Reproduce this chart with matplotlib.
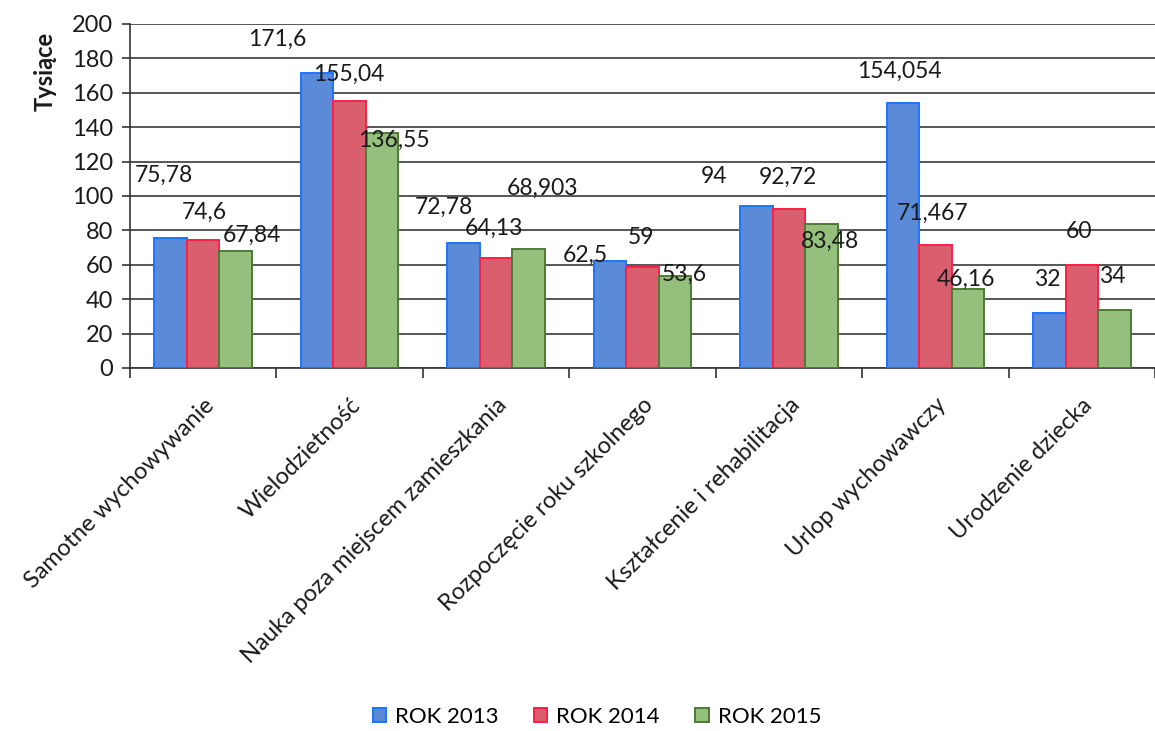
import matplotlib
matplotlib.use("Agg")
import matplotlib.pyplot as plt
import numpy as np

categories = ["Samotne wychowywanie", "Wielodzietność", "Nauka poza miejscem zamieszkania",
              "Rozpoczęcie roku szkolnego", "Kształcenie i rehabilitacja",
              "Urlop wychowawczy", "Urodzenie dziecka"]
series_names = ["ROK 2013", "ROK 2014", "ROK 2015"]
rok_2013 = [75.78, 171.6, 72.78, 62.5, 94, 154.054, 32]
rok_2014 = [74.6, 155.04, 64.13, 59, 92.72, 71.467, 60]
rok_2015 = [67.84, 136.55, 68.903, 53.6, 83.48, 46.16, 34]
y_ticks = [0, 20, 40, 60, 80, 100, 120, 140, 160, 180, 200]
y_label = "Tysiące"

# styles
face_colors = ["#5b8ad8", "#d95f6e", "#95bf7c"]
edge_colors = ["#1c74ff", "#ff1f45", "#4f7a35"]
# label offsets in pixels (dx, dy) per series per category
label_offsets = [
    [(-7, 62), (-40, 34), (-20, 35), (-25, 5), (-42, 30), (-3, 32), (-2, 33)],
    [(1, 27), (-1, 27), (-2, 29), (-1, 29), (-1, 31), (-3, 32), (-3, 33)],
    [(16, 16), (12, -7), (14, 61), (9, 1), (9, -17), (-2, 9), (-2, 33)],
]

plt.rcParams['font.family'] = ['Lato', 'DejaVu Sans']

W, H = 1155, 731
fig = plt.figure(figsize=(W / 100, H / 100), dpi=100)
ax = fig.add_axes([130 / W, (H - 368) / H, 1 - 130 / W, (368 - 24) / H])

x = np.arange(len(categories))
bw = 0.222
all_series = [rok_2013, rok_2014, rok_2015]
for i, vals in enumerate(all_series):
    xs = x + (i - 1) * bw
    ax.bar(xs, vals, width=bw, color=face_colors[i], edgecolor=edge_colors[i],
           linewidth=1.4, label=series_names[i], zorder=3)
    for j, v in enumerate(vals):
        dx, dy = label_offsets[i][j]
        ax.annotate(f"{v:g}".replace('.', ','), (xs[j], v), xytext=(dx, dy),
                    textcoords='offset pixels', ha='center', va='center',
                    fontsize=16.5, color='#1a1a1a', zorder=5)

ax.set_ylim(0, 200)
ax.set_xlim(-0.5, -0.5 + (W - 130) / 148.2)
ax.set_yticks(y_ticks)
ax.tick_params(axis='y', labelsize=17, length=6, width=1.2, color='#333333', pad=6,
               labelcolor='#1a1a1a')
ax.yaxis.grid(True, color='#3a3a3a', linewidth=1.2, zorder=0)
ax.set_axisbelow(True)

ax.set_xticks(x)
ax.set_xticklabels(categories, rotation=45, ha='right', rotation_mode='anchor',
                   fontsize=17, color='#1a1a1a')
ax.tick_params(axis='x', which='major', length=0, pad=19)
ax.set_xticks(np.arange(-0.5, len(categories), 1.0), minor=True)
ax.tick_params(axis='x', which='minor', length=7, width=1.2, color='#333333')

for s in ['top', 'right']:
    ax.spines[s].set_visible(False)
for s in ['left', 'bottom']:
    ax.spines[s].set_color('#333333')
    ax.spines[s].set_linewidth(1.2)

fig.text(45 / W, 1 - 71 / H, y_label, rotation=90, ha='center', va='center',
         fontsize=17, fontweight='bold', color='#1a1a1a')

fig.legend(loc='center', bbox_to_anchor=(597 / W, 14 / H), ncol=3, frameon=False,
           fontsize=16, handlelength=0.6, handleheight=0.6, handletextpad=0.4,
           columnspacing=1.6)

fig.savefig("out.png", dpi=100)
